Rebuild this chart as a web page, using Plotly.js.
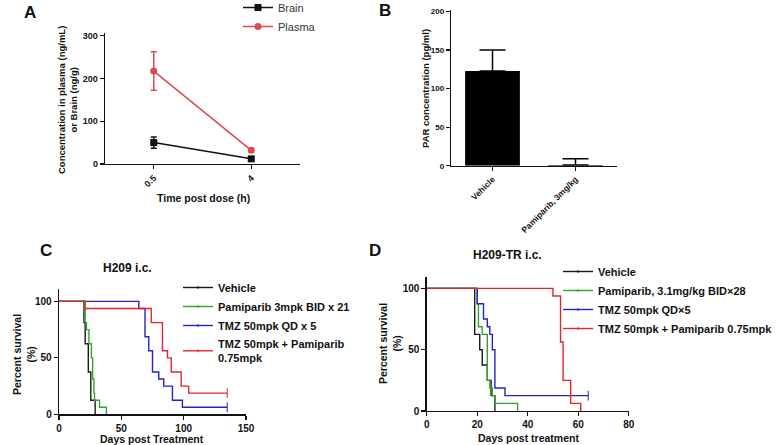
<!DOCTYPE html>
<html>
<head>
<meta charset="utf-8">
<script src="https://cdn.plot.ly/plotly-3.0.1.min.js"></script>
<style>html,body{margin:0;padding:0;background:#fff;}#chart{width:779px;height:445px;}</style>
</head>
<body>
<div id="chart"></div>
<script>
// ---- Panel A: pharmacokinetics ----
const timeCats = ['0.5', '4'];
const brainMean = [50, 12];
const brainSem = [13, 3];
const plasmaMean = [217, 32];
const plasmaSem = [45, 4];

// ---- Panel B: PAR concentration ----
const parGroups = ['Vehicle', 'Pamiparib, 3mg/kg'];
const parMean = [123, 1];
const parSem = [27, 8];

// ---- Panel C: H209 i.c. survival ----
const cVehicleDays = [0, 20, 21, 23.5, 25.5, 29];
const cVehicleSurv = [100, 81.25, 62.5, 37.5, 12.5, 0];
const cPamiDays = [0, 20, 21, 22, 24, 26, 27, 28, 28.5, 32.5, 38];
const cPamiSurv = [100, 93.75, 81.25, 75, 62.5, 50, 31.25, 18.75, 12.5, 6.25, 0];
const cTmzDays = [0, 64, 69, 72, 75, 80, 84, 91, 99, 135];
const cTmzSurv = [100, 93.75, 68.75, 56.25, 37.5, 31.25, 25, 12.5, 6.25, 6.25];
const cComboDays = [0, 21, 74, 83, 87, 90, 98, 104, 135];
const cComboSurv = [100, 93.75, 81.25, 56.25, 50, 37.5, 25, 18.75, 18.75];

// ---- Panel D: H209-TR i.c. survival ----
const dVehicleDays = [0, 19, 21, 22, 24, 25.5, 27];
const dVehicleSurv = [100, 62.5, 50, 37.5, 25, 12.5, 0];
const dPamiDays = [0, 20, 20.5, 22, 24, 25, 26, 27, 36];
const dPamiSurv = [100, 87.5, 68.75, 62.5, 25, 18.75, 12.5, 6.25, 0];
const dTmzDays = [0, 20, 22.5, 24, 25, 26, 27, 31, 64];
const dTmzSurv = [100, 87.5, 75, 68.75, 62.5, 50, 18.75, 12.5, 12.5];
const dComboDays = [0, 50, 53, 54, 57, 61];
const dComboSurv = [100, 93.75, 56.25, 25, 6.25, 0];

const legendC = ['Vehicle', 'Pamiparib 3mpk BID x 21', 'TMZ 50mpk QD x 5', 'TMZ 50mpk + Pamiparib<br>0.75mpk'];
const legendD = ['Vehicle', 'Pamiparib, 3.1mg/kg BID×28', 'TMZ 50mpk QD×5', 'TMZ 50mpk + Pamiparib 0.75mpk'];

const FONT = 'Arial, "Liberation Sans", sans-serif';
const W = 779, H = 445;
const px = v => v / W;
const py = v => 1 - v / H;

const colBlack = '#1a1a1a', colGreen = '#2fa52f', colBlue = '#2323c8', colRed = '#e3262b';

function survTrace(days, surv, name, color, xa, ya, leg) {
  const last = days.length - 1;
  const sizes = days.map((d, i) => (i === last && surv[last] > 0) ? 7 : 0);
  return {
    type: 'scatter', mode: 'lines+markers', x: days, y: surv, name: name,
    xaxis: xa, yaxis: ya, legend: leg,
    line: {shape: 'hv', color: color, width: 1.4},
    marker: {symbol: 'line-ns-open', size: sizes, color: color, line: {color: color, width: 1.4}},
    cliponaxis: false, hoverinfo: 'skip'
  };
}

const traces = [
  {type: 'scatter', mode: 'lines+markers', x: timeCats, y: brainMean, name: 'Brain',
   xaxis: 'x', yaxis: 'y', legend: 'legend',
   line: {color: '#111', width: 1.5}, marker: {symbol: 'square', size: 7, color: '#111'},
   error_y: {type: 'data', array: brainSem, color: '#111', thickness: 1.5, width: 3}, cliponaxis: false},
  {type: 'scatter', mode: 'lines+markers', x: timeCats, y: plasmaMean, name: 'Plasma',
   xaxis: 'x', yaxis: 'y', legend: 'legend',
   line: {color: '#e0484f', width: 1.5}, marker: {symbol: 'circle', size: 7, color: '#e0484f'},
   error_y: {type: 'data', array: plasmaSem, color: '#e0484f', thickness: 1.5, width: 3}, cliponaxis: false},
  {type: 'bar', x: parGroups, y: parMean, xaxis: 'x2', yaxis: 'y2', showlegend: false,
   width: 0.66, marker: {color: '#000'},
   error_y: {type: 'data', symmetric: false, array: parSem, arrayminus: [0, 0], color: '#000', thickness: 1.5, width: 13}},
  survTrace(cVehicleDays, cVehicleSurv, legendC[0], colBlack, 'x3', 'y3', 'legend2'),
  survTrace(cPamiDays, cPamiSurv, legendC[1], colGreen, 'x3', 'y3', 'legend2'),
  survTrace(cTmzDays, cTmzSurv, legendC[2], colBlue, 'x3', 'y3', 'legend2'),
  survTrace(cComboDays, cComboSurv, legendC[3], colRed, 'x3', 'y3', 'legend2'),
  survTrace(dVehicleDays, dVehicleSurv, legendD[0], colBlack, 'x4', 'y4', 'legend3'),
  survTrace(dPamiDays, dPamiSurv, legendD[1], colGreen, 'x4', 'y4', 'legend3'),
  survTrace(dTmzDays, dTmzSurv, legendD[2], colBlue, 'x4', 'y4', 'legend3'),
  survTrace(dComboDays, dComboSurv, legendD[3], colRed, 'x4', 'y4', 'legend3')
];

function ax(extra) {
  return Object.assign({
    showline: true, linecolor: '#111', linewidth: 1.3,
    ticks: 'outside', ticklen: 4, tickwidth: 1.2, tickcolor: '#111',
    showgrid: false, zeroline: false, automargin: false, fixedrange: true,
    tickfont: {family: FONT, size: 10, color: '#111', weight: 'bold'}
  }, extra);
}

function ann(text, x, y, size, extra) {
  return Object.assign({
    text: text, xref: 'paper', yref: 'paper', x: px(x), y: py(y),
    xanchor: 'center', yanchor: 'middle', showarrow: false,
    font: {family: FONT, size: size, color: '#111', weight: 'bold'}
  }, extra || {});
}

const legFont = {family: FONT, size: 11, color: '#111', weight: 'bold'};
const smallTick = {family: FONT, size: 9, color: '#111', weight: 'bold'};

const layout = {
  width: W, height: H, margin: {l: 0, r: 0, t: 0, b: 0, autoexpand: false},
  paper_bgcolor: '#fff', plot_bgcolor: 'rgba(0,0,0,0)',
  font: {family: FONT},
  xaxis: ax({anchor: 'y', domain: [px(105), px(300)], type: 'category', range: [-0.5, 1.5], tickangle: -45, tickfont: smallTick}),
  yaxis: ax({anchor: 'x', domain: [py(164), py(33)], range: [0, 306], tickvals: [0, 100, 200, 300], tickfont: smallTick}),
  xaxis2: ax({anchor: 'y2', domain: [px(451), px(617)], type: 'category', range: [-0.5, 1.5], tickangle: -45,
              tickfont: {family: FONT, size: 8.5, color: '#111', weight: 'bold'}}),
  yaxis2: ax({anchor: 'x2', domain: [py(165.7), py(10)], range: [0, 202], tickvals: [0, 50, 100, 150, 200],
              tickfont: {family: FONT, size: 8, color: '#111', weight: 'bold'}}),
  xaxis3: ax({anchor: 'y3', domain: [px(59), px(246)], range: [0, 150], tickvals: [0, 50, 100, 150]}),
  yaxis3: ax({anchor: 'x3', domain: [py(414.3), py(289)], range: [0, 111], tickvals: [0, 50, 100]}),
  xaxis4: ax({anchor: 'y4', domain: [px(426.7), px(628.7)], range: [0, 80], tickvals: [0, 20, 40, 60, 80]}),
  yaxis4: ax({anchor: 'x4', domain: [py(411), py(276.7)], range: [0, 109.5], tickvals: [0, 50, 100]}),
  legend: {x: px(238), y: py(-7), xanchor: 'left', yanchor: 'top', bgcolor: 'rgba(0,0,0,0)',
           font: {family: FONT, size: 11, color: '#333'}, tracegroupgap: 0},
  legend2: {x: px(178), y: py(273), xanchor: 'left', yanchor: 'top', bgcolor: 'rgba(0,0,0,0)',
            font: legFont, tracegroupgap: 0},
  legend3: {x: px(558), y: py(257), xanchor: 'left', yanchor: 'top', bgcolor: 'rgba(0,0,0,0)',
            font: legFont, tracegroupgap: 0},
  annotations: [
    ann('A', 30, 12, 17),
    ann('B', 385, 10, 17),
    ann('C', 46, 250, 17),
    ann('D', 375, 250, 17),
    ann('Concentration in plasma (ng/mL)<br>or Brain (ng/g)', 67, 100, 9.5, {textangle: -90}),
    ann('Time post dose (h)', 203, 198, 10.5),
    ann('PAR concentration (pg/ml)', 426, 89, 9.5, {textangle: -90}),
    ann('H209 i.c.', 127, 268, 12),
    ann('Percent survival<br>(%)', 24, 355, 10.5, {textangle: -90}),
    ann('Days post Treatment', 152, 439, 10.5),
    ann('H209-TR i.c.', 507, 255, 12),
    ann('Percent survival<br>(%)', 390, 344, 10.5, {textangle: -90}),
    ann('Days post treatment', 528, 438, 10.5)
  ]
};

Plotly.newPlot('chart', traces, layout, {displayModeBar: false, staticPlot: true});
</script>
</body>
</html>
